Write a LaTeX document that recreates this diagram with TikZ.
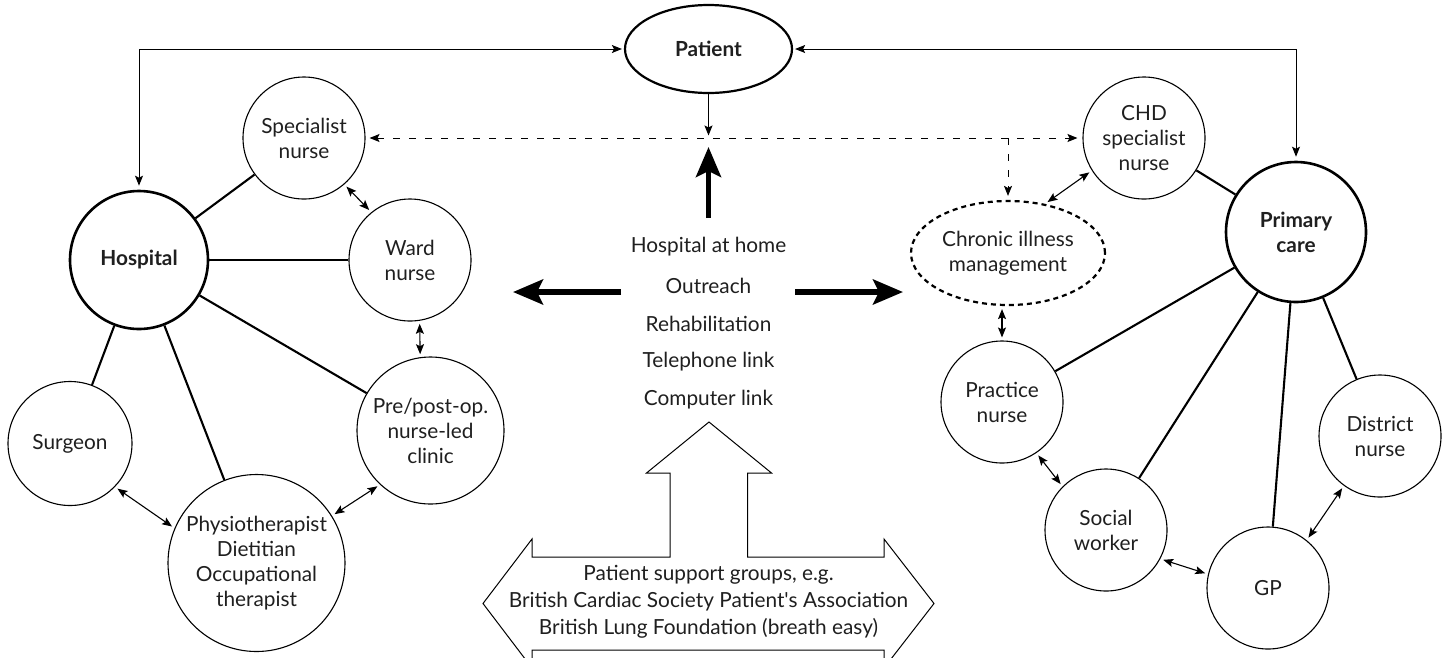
\documentclass[tikz,border=0pt]{standalone}
\usepackage{fontspec}
\setmainfont{Lato}
\usetikzlibrary{arrows.meta,calc,shapes.geometric}
\begin{document}
\begin{tikzpicture}[x=1pt,y=-1pt,
  txt/.style={font=\fontsize{20.8}{25}\selectfont, align=center, text=black!88},
  circ/.style={circle, draw, line width=1.1pt, minimum size=#1, inner sep=0pt, txt},
  hub/.style={circle, draw, line width=2.6pt, minimum size=#1, inner sep=0pt, txt, font=\fontsize{20.8}{25}\selectfont\bfseries},
  link/.style={line width=2.1pt},
  tip/.style={>={Stealth[length=10pt,width=8pt,inset=2pt]}},
  thinarr/.style={line width=1pt, tip},
  dbl/.style={<->, line width=1.1pt, tip, shorten <=3pt, shorten >=3pt},
  dsh/.style={line width=1pt, dash pattern=on 7pt off 9pt, tip},
  fat/.style={line width=5.5pt, -{Stealth[length=30pt,width=25pt,inset=6pt]}},
  lbl/.style={txt, inner sep=0pt}
]
\useasboundingbox (0,0) rectangle (1445,657);
\clip (0,0) rectangle (1445,657);

% nodes
\node[ellipse, draw, line width=2.2pt, minimum width=167pt, minimum height=88pt, inner sep=0pt, txt, font=\fontsize{20.8}{25}\selectfont\bfseries] (pat) at (708.5,49) {Patient};
\node[hub=138pt] (hosp) at (139,260) {Hospital};
\node[circ=122pt] (sn) at (304,138) {Specialist\\nurse};
\node[circ=122pt] (wn) at (410,260) {Ward\\nurse};
\node[circ=147pt] (pp) at (430.5,430.5) {Pre/post-op.\\nurse-led\\clinic};
\node[circ=124pt] (sg) at (70,443.5) {Surgeon};
\node[circ=177pt] (ph) at (256.5,563) {Physiotherapist\\Dietitian\\Occupational\\therapist};

\node[circ=122pt] (chd) at (1144,138) {CHD\\specialist\\nurse};
\node[hub=140pt] (pc) at (1296,232) {Primary\\care};
\node[ellipse, draw, line width=2.2pt, dash pattern=on 5pt off 4pt, minimum width=194pt, minimum height=104pt, inner sep=0pt, txt] (cim) at (1008,253) {Chronic illness\\management};
\node[circ=122pt] (pn) at (1002,402) {Practice\\nurse};
\node[circ=122pt] (sw) at (1106,530) {Social\\worker};
\node[circ=122pt] (gp) at (1268,588) {GP};
\node[circ=122pt] (dn) at (1380,436) {District\\nurse};

% hub links
\draw[link] (hosp) -- (sn);
\draw[link] (hosp) -- (wn);
\draw[link] (hosp) -- (pp);
\draw[link] (hosp) -- (sg);
\draw[link] (hosp) -- (ph);
\draw[link] (pc) -- (chd);
\draw[link] (pc) -- (pn);
\draw[link] (pc) -- (sw);
\draw[link] (pc) -- (gp);
\draw[link] (pc) -- (dn);

% patient connections
\draw[thinarr,<->, shorten <=4pt, shorten >=2pt] (hosp.north) |- (pat.west);
\draw[thinarr,<->, shorten <=4pt, shorten >=2pt] (pc.north) |- (pat.east);
\coordinate (meet) at (708.5,135.5);
\draw[thinarr,->] (pat.south) -- (meet);

% dashed
\draw[dsh,<->, shorten <=4pt, shorten >=5pt] (sn.east) -- (chd.west);
\draw[dsh,->, shorten >=4pt] (cim.north |- sn.east) -- (cim.north);

% double arrows
\draw[dbl] (sn.-49) -- (wn.129);
\draw[dbl] (wn.-81) -- (pp.98);
\draw[dbl] (sg.-44) -- (ph.157);
\draw[dbl] (ph.32) -- (pp.227);
\draw[dbl] (chd.212) -- (cim.53);
\draw[dbl] (pn.north |- cim.south) -- (pn.north);
\draw[dbl] (pn.-56) -- (sw.135);
\draw[dbl] (sw.-28) -- (gp.167);
\draw[dbl] (gp.51) -- (dn.234);

% central thick arrows
\coordinate (upbot) at (708.5,218);
\coordinate (uptip) at (708.5,147);
\coordinate (lfrom) at (621,292);
\coordinate (lto) at (513,292);
\coordinate (rfrom) at (795,292);
\coordinate (rto) at (903,292);
\draw[fat] (upbot) -- (uptip);
\draw[fat] (lfrom) -- (lto);
\draw[fat] (rfrom) -- (rto);

% services list
\node[lbl] (s1) at (708.5,247) {Hospital at home};
\node[lbl] (s2) at (708.5,285.5) {Outreach};
\node[lbl] (s3) at (708.5,324) {Rehabilitation};
\node[lbl] (s4) at (708.5,362) {Telephone link};
\node[lbl] (s5) at (708.5,400) {Computer link};

% block arrow
\draw[line width=1pt, line join=miter]
  (483,603.5) -- (532,539) -- (532,557) -- (670,557) -- (670,473) -- (646.5,473)
  -- (709,422) -- (771.5,473) -- (747.5,473) -- (747.5,557) -- (884,557) -- (884,539)
  -- (934,603.5) -- (884,668) -- (884,650) -- (532,650) -- (532,668) -- cycle;
\node[txt, font=\fontsize{20.8}{27}\selectfont, inner sep=0pt] (grp) at (708.5,602) {Patient support groups, e.g.\\British Cardiac Society Patient\textquotesingle s Association\\British Lung Foundation (breath easy)};
\end{tikzpicture}
\end{document}
